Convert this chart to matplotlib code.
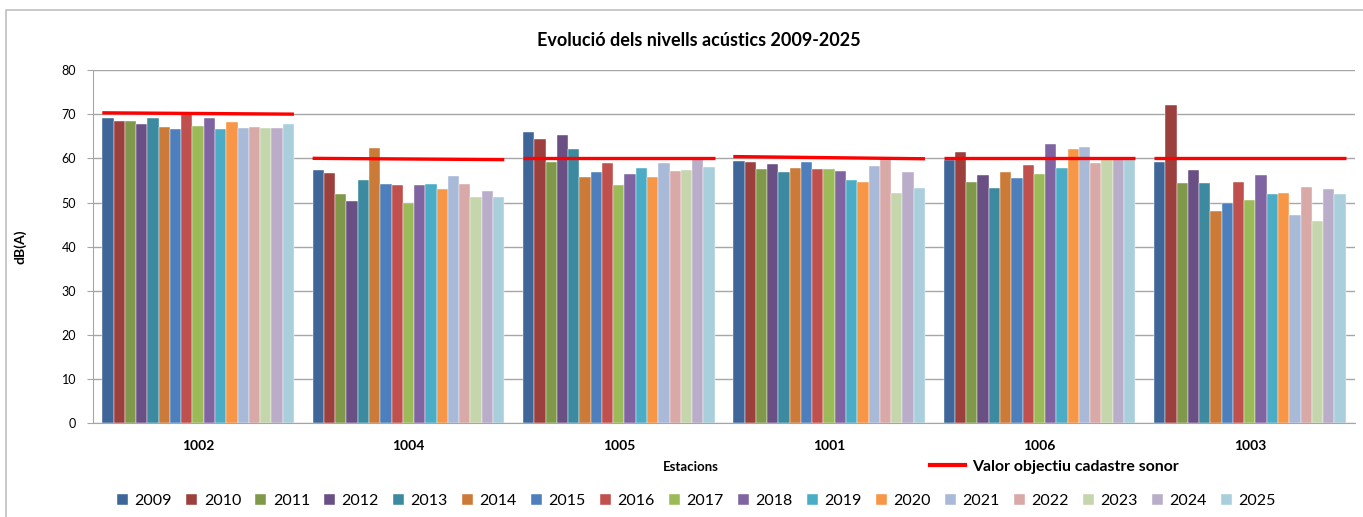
import numpy as np
import matplotlib.pyplot as plt
from matplotlib.lines import Line2D

# Stations and years
stations = ["1002", "1004", "1005", "1001", "1006", "1003"]
years = [str(y) for y in range(2009, 2026)]

# dB(A) values per year, one entry per station (order as in stations)
v2009 = [69.1, 57.4, 66.0, 59.3, 59.7, 59.1]
v2010 = [68.5, 56.7, 64.4, 59.1, 61.4, 72.0]
v2011 = [68.5, 51.9, 59.2, 57.5, 54.6, 54.4]
v2012 = [67.7, 50.3, 65.3, 58.7, 56.2, 57.4]
v2013 = [69.1, 55.2, 62.0, 56.8, 53.3, 54.4]
v2014 = [67.1, 62.3, 55.8, 57.7, 57.0, 48.0]
v2015 = [66.6, 54.2, 57.0, 59.1, 55.6, 50.0]
v2016 = [70.3, 53.9, 58.9, 57.5, 58.5, 54.6]
v2017 = [67.3, 49.9, 53.9, 57.5, 56.4, 50.5]
v2018 = [69.1, 53.9, 56.4, 57.2, 63.2, 56.2]
v2019 = [66.6, 54.2, 57.8, 55.0, 57.7, 51.9]
v2020 = [68.3, 53.1, 55.8, 54.7, 62.0, 52.1]
v2021 = [66.8, 56.0, 59.0, 58.3, 62.6, 47.2]
v2022 = [67.1, 54.2, 57.2, 60.1, 58.9, 53.6]
v2023 = [66.8, 51.3, 57.4, 52.1, 59.9, 45.8]
v2024 = [66.8, 52.7, 59.9, 56.8, 59.9, 53.1]
v2025 = [67.7, 51.3, 58.0, 53.3, 59.9, 51.9]
values = [v2009, v2010, v2011, v2012, v2013, v2014, v2015, v2016, v2017,
          v2018, v2019, v2020, v2021, v2022, v2023, v2024, v2025]

# target value line (start / end of each station segment)
target_start = [70.3, 60.0, 60.0, 60.4, 60.0, 60.0]
target_end = [70.0, 59.7, 60.0, 59.9, 60.0, 60.0]

colors = ["#3F6699", "#9C403E", "#7F984A", "#6A4F85", "#3B8AA0", "#CC7A38",
          "#4D7FBC", "#C0504D", "#9BBB59", "#8064A2", "#4BACC6", "#F79646",
          "#A9B9D8", "#D9A9A8", "#C6D6AC", "#B9ADC9", "#A9CEDC"]

plt.rcParams['font.family'] = ['Lato', 'DejaVu Sans']

fig = plt.figure(figsize=(13.63, 5.17), dpi=100)
# chart frame: only left and top edges are visible in the crop
fig.add_artist(Line2D([0.0045, 0.0045, 1.0], [0.0, 0.981, 0.981], transform=fig.transFigure,
                      color="#BFBFBF", linewidth=1.2))
ax = fig.add_axes([0.0682, 0.1809, 0.9259, 0.6838])

x = np.arange(len(stations))
w = 0.0536
n = len(years)
for i, (yr, vals) in enumerate(zip(years, values)):
    ax.bar(x + (i - (n - 1) / 2) * w, vals, width=w, color=colors[i],
           edgecolor="white", linewidth=0.3, label=yr, zorder=2)

half = w * n / 2
for i in range(len(stations)):
    ax.plot([x[i] - half, x[i] + half], [target_start[i], target_end[i]],
            color="#FF0000", linewidth=2.4, zorder=3, solid_capstyle="butt")

ax.set_xlim(-0.5, len(stations) - 0.5)
ax.set_ylim(0, 80)
ax.set_yticks(np.arange(0, 81, 10))
ax.yaxis.grid(True, color="#A6A6A6", linewidth=1.0, zorder=0)
ax.set_axisbelow(True)
for s in ["top", "right"]:
    ax.spines[s].set_visible(False)
ax.spines["left"].set_color("#A6A6A6")
ax.spines["bottom"].set_color("#A6A6A6")
ax.tick_params(axis="y", length=4, color="#A6A6A6", labelsize=9, pad=8)
ax.set_xticks(x)
ax.set_xticklabels(stations, fontsize=10, fontweight="bold")
ax.tick_params(axis="x", length=0, pad=12)

ax.set_ylabel("dB(A)", fontsize=10, fontweight="bold", labelpad=25)
fig.text(0.513, 0.922, "Evolució dels nivells acústics 2009-2025", ha="center",
         va="center", fontsize=13, fontweight="bold")
fig.text(0.507, 0.097, "Estacions", ha="center", va="center", fontsize=9.5, fontweight="bold")

red_handle = Line2D([], [], color="#FF0000", linewidth=3)
fig.legend([red_handle], ["Valor objectiu cadastre sonor"], loc="center left",
           bbox_to_anchor=(0.672, 0.097), frameon=False, handlelength=2.2,
           prop={"size": 11.4, "weight": "bold"}, handletextpad=0.45)

handles, labels = ax.get_legend_handles_labels()
fig.legend(handles, labels, loc="center", bbox_to_anchor=(0.511, 0.031), ncol=17,
           frameon=False, fontsize=11.5, handlelength=0.7, handleheight=0.7,
           handletextpad=0.4, columnspacing=0.88)

fig.savefig("out.png", dpi=100)
